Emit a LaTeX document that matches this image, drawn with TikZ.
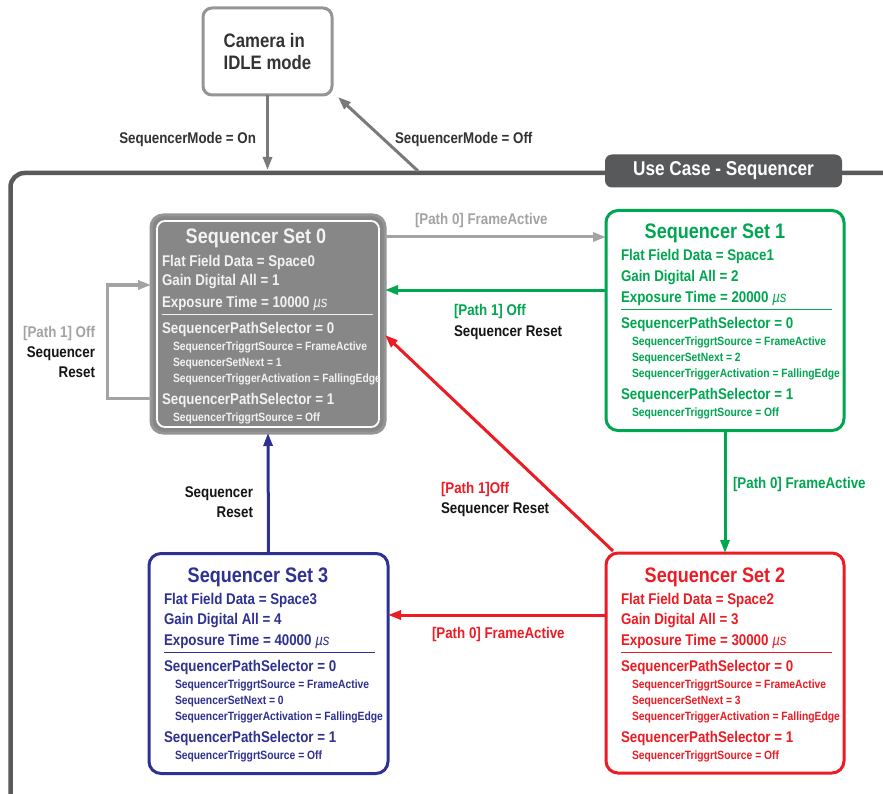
\documentclass[tikz,border=0pt]{standalone}
\usepackage{fontspec}
\setmainfont[FakeStretch=0.86]{Liberation Sans}
\usetikzlibrary{arrows.meta}
\definecolor{sgreen}{HTML}{00A650}
\definecolor{sred}{HTML}{ED1C24}
\definecolor{sblue}{HTML}{2E3192}
\definecolor{sgray}{HTML}{878787}
\definecolor{sgrayb}{HTML}{959595}
\definecolor{lgray}{HTML}{A3A3A3}
\definecolor{fgray}{HTML}{58595B}
\definecolor{cgray}{HTML}{7A7A7A}
\definecolor{ink}{HTML}{151515}
\definecolor{dink}{HTML}{333333}
\definecolor{wtext}{HTML}{F2F2F2}

\tikzset{
 every node/.style={inner sep=0pt, outer sep=0pt},
 setbox/.style={draw, line width=3pt, rounded corners=12pt, fill=white, minimum width=238pt, minimum height=220pt},
 conn/.style={line width=3pt, -{Triangle[length=13pt,width=9pt]}},
 ttl/.style={anchor=base, font=\bfseries\fontsize{21}{24}\selectfont},
 big/.style={anchor=base west, font=\bfseries\fontsize{15.5}{18}\selectfont},
 sml/.style={anchor=base west, font=\bfseries\fontsize{12}{14}\selectfont},
 lbl/.style={anchor=base west, font=\bfseries\fontsize{15.5}{18}\selectfont},
 lblr/.style={anchor=base east, font=\bfseries\fontsize{15.5}{18}\selectfont},
}

% #1 name, #2 text left x, #3 top y, #4 color, #5 n, #6 gain, #7 exposure, #8 next
\newcommand\seqtext[8]{%
 \begin{scope}[text=#4]
 \node[ttl] (#1t) at ({#2+94},{#3+29}) {Sequencer Set #5};
 \node[big] (#1a) at (#2,{#3+51}) {Flat Field Data = Space#5};
 \node[big] (#1b) at (#2,{#3+71}) {Gain Digital All = #6};
 \node[big] (#1c) at (#2,{#3+92}) {Exposure Time = #7 {\mdseries\itshape µs}};
 \draw[#4, line width=1.2pt] (#2,{#3+99.5}) -- ({#2+211},{#3+99.5});
 \node[big] (#1d) at (#2,{#3+118}) {SequencerPathSelector = 0};
 \node[sml] (#1e) at ({#2+11},{#3+135}) {SequencerTriggrtSource = FrameActive};
 \node[sml] (#1f) at ({#2+11},{#3+151}) {SequencerSetNext = #8};
 \node[sml] (#1g) at ({#2+11},{#3+167}) {SequencerTriggerActivation = FallingEdge};
 \node[big] (#1h) at (#2,{#3+189}) {SequencerPathSelector = 1};
 \node[sml] (#1i) at ({#2+11},{#3+206}) {SequencerTriggrtSource = Off};
 \end{scope}}

\begin{document}
\begin{tikzpicture}[x=1pt,y=-1pt]
\useasboundingbox (0,0) rectangle (883,794);
\clip (0,0) rectangle (883,794);
\fill[white] (0,0) rectangle (883,794);

% outer frame
\draw[fgray, line width=4.5pt, rounded corners=14pt] (10.5,173) rectangle (960,860);
\node[fill=fgray, rounded corners=7pt, minimum width=237pt, minimum height=33pt,
  text=white, font=\bfseries\fontsize{20}{22}\selectfont] (tab) at (723.5,171) {Use Case - Sequencer};

% camera
\node[draw=sgrayb, line width=3pt, rounded corners=9pt, fill=white, minimum width=129pt,
  minimum height=87pt, align=left, text=dink, font=\bfseries\fontsize{19.5}{22}\selectfont]
  (cam) at (267.5,51.5) {Camera in\\IDLE mode};

% set boxes
\node[setbox, draw=sgrayb, fill=sgray, minimum width=234pt, minimum height=218pt] (s0) at (268,324) {};
\draw[white, line width=1.8pt, rounded corners=8pt] (157,221) rectangle (379,427);
\node[setbox, draw=sgreen] (s1) at (725,320.5) {};
\node[setbox, draw=sred] (s2) at (725,663) {};
\node[setbox, draw=sblue, minimum width=239pt] (s3) at (268.5,663.5) {};

\seqtext{z}{162}{215}{wtext}{0}{1}{10000}{1}
\seqtext{o}{621}{210}{sgreen}{1}{2}{20000}{2}
\seqtext{w}{621}{553}{sred}{2}{3}{30000}{3}
\seqtext{h}{164}{553}{sblue}{3}{4}{40000}{0}

% camera connectors
\coordinate (fin) at (267.5,170);
\coordinate (fout) at (418,171);
\draw[conn, cgray] (cam.south) -- (fin);
\draw[conn, cgray] (fout) -- ([xshift=6pt,yshift=-2pt]cam.south east);
\node[lblr, text=dink] (mon) at (256,143.5) {SequencerMode = On};
\node[lbl, text=dink] (moff) at (395,143.5) {SequencerMode = Off};

% set connectors
\draw[conn, lgray] (s0.east |- 0,237) -- (s1.west |- 0,237);
\draw[conn, sgreen] (s1.west |- 0,290) -- (s0.east |- 0,290);
\draw[conn, sgreen] (s1.south) -- (s2.north);
\draw[conn, sred] ([xshift=7pt,yshift=2pt]s2.north west) -- (s0.east |- 0,335);
\draw[conn, sred] (s2.west |- 0,615) -- (s3.east |- 0,615);
\draw[conn, sblue] (s3.north) -- (s0.south);
\coordinate (la) at (107,398);
\coordinate (lb) at (107,285);
\draw[lgray, line width=3pt, -{Triangle[length=13pt,width=9pt]}] (s0.west |- 0,398) -- (la) -- (lb) -- (s0.west |- 0,285);

% labels
\node[lbl, text=lgray] (l01) at (415,225) {[Path 0] FrameActive};
\node[lbl, text=sgreen] (l10a) at (454,315) {[Path 1] Off};
\node[lbl, text=ink] (l10b) at (454,336) {Sequencer Reset};
\node[lbl, text=sgreen] (l12) at (733,488) {[Path 0] FrameActive};
\node[lbl, text=sred] (l20a) at (441,493) {[Path 1]Off};
\node[lbl, text=ink] (l20b) at (441,513) {Sequencer Reset};
\node[lbl, text=sred] (l23) at (432,638) {[Path 0] FrameActive};
\node[lblr, text=ink] (l30a) at (253,497) {Sequencer};
\node[lblr, text=ink] (l30b) at (253,517) {Reset};
\node[lblr, text=lgray] (l00a) at (95,337) {[Path 1] Off};
\node[lblr, text=ink] (l00b) at (95,357) {Sequencer};
\node[lblr, text=ink] (l00c) at (95,377) {Reset};
\end{tikzpicture}
\end{document}
